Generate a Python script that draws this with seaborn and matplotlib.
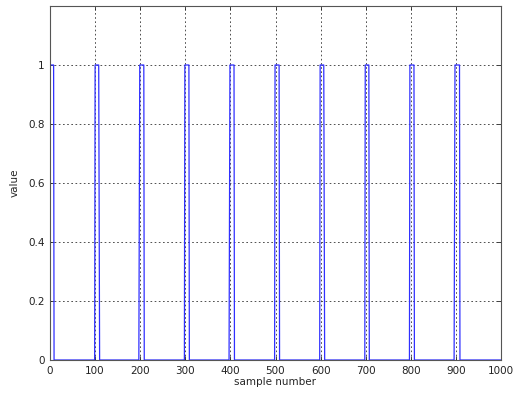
import matplotlib
matplotlib.use("Agg")
import matplotlib.pyplot as plt
import seaborn as sns
import pandas as pd

# Breakpoints of the pulse train (sample index, value)
sample_idx = [0, 8, 9,
              99, 100, 108, 109, 110,
              197, 198, 199, 208, 209,
              298, 299, 308, 309,
              397, 398, 399, 408, 409,
              498, 499, 508, 509,
              598, 599, 607, 608, 609,
              698, 699, 707, 708,
              797, 798, 807, 808,
              896, 897, 898, 908, 909, 1000]
sample_val = [1, 1, 0,
              0, 1, 1, 0.5, 0,
              0, 0.5, 1, 1, 0,
              0, 1, 1, 0,
              0, 0.5, 1, 1, 0,
              0, 1, 1, 0,
              0, 1, 1, 0.5, 0,
              0, 1, 1, 0,
              0, 1, 1, 0,
              0, 0.5, 1, 1, 0, 0]

x_ticks = [0, 100, 200, 300, 400, 500, 600, 700, 800, 900, 1000]
y_ticks = [0, 0.2, 0.4, 0.6, 0.8, 1]
y_tick_labels = ["0", "0.2", "0.4", "0.6", "0.8", "1"]

sns.set_style("ticks")
plt.rcParams["font.family"] = ["DejaVu Sans"]

df = pd.DataFrame({"sample number": sample_idx, "value": sample_val})

fig = plt.figure(figsize=(5.14, 3.96), dpi=100)
ax = fig.add_axes([50 / 514, 36 / 396, 451 / 514, 354 / 396])
sns.lineplot(data=df, x="sample number", y="value", sort=False,
             color="#3030ff", lw=0.9, ax=ax, estimator=None)

ax.set_xlim(0, 1000)
ax.set_ylim(0, 1.2)
ax.set_xticks(x_ticks)
ax.set_yticks(y_ticks)
ax.set_yticklabels(y_tick_labels)
ax.tick_params(direction="in", labelsize=7.5, length=3, width=0.6, colors="#222222",
               top=True, right=True, pad=4)
ax.grid(True, linestyle=(0, (2, 3)), color="#333333", lw=0.6)
ax.set_axisbelow(True)
for s in ax.spines.values():
    s.set_color("#555555")
    s.set_linewidth(0.8)
ax.set_xlabel("sample number", fontsize=7.5, labelpad=1)
ax.set_ylabel("value", fontsize=7.5, labelpad=6)

fig.savefig("out.png", dpi=100)
